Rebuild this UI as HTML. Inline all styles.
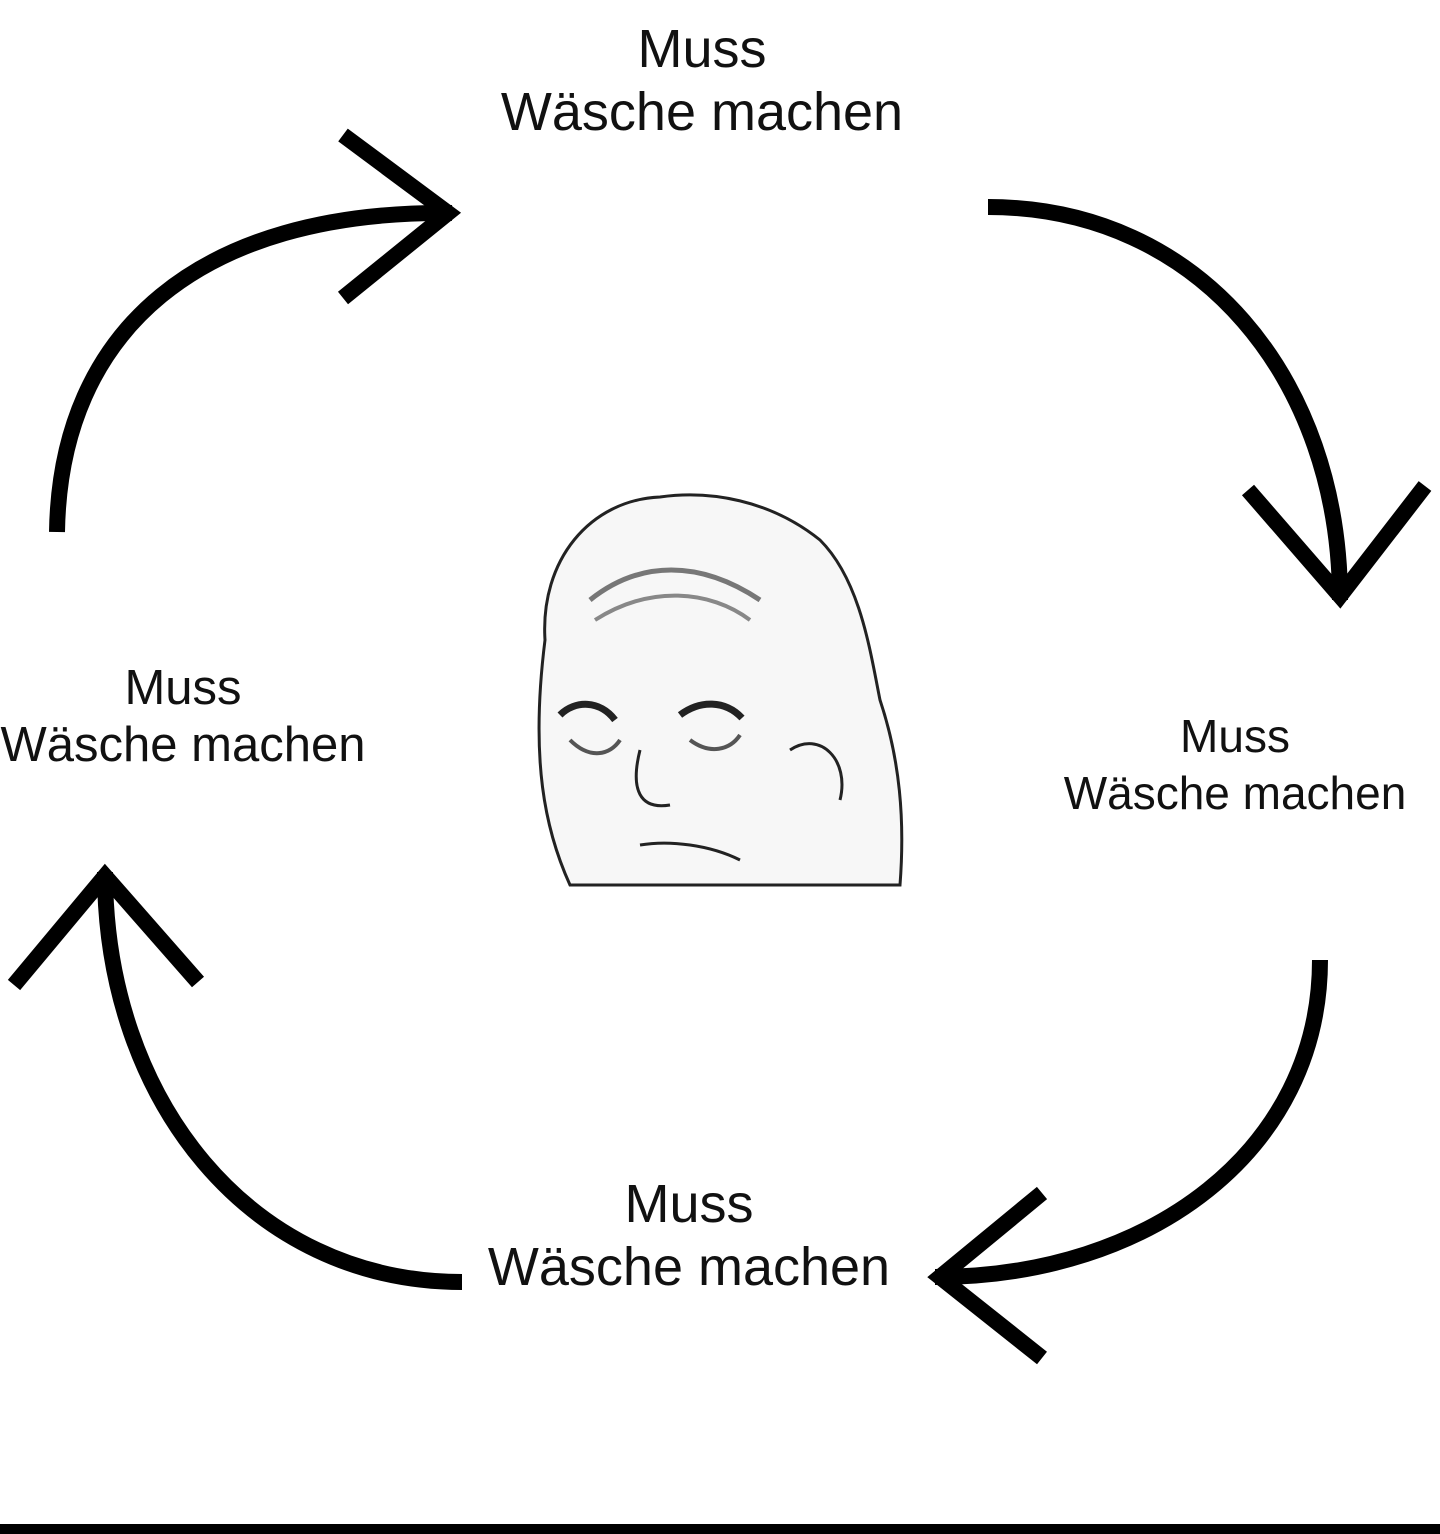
<!DOCTYPE html>
<html><head><meta charset="utf-8"><style>
html,body{margin:0;padding:0;background:#fff;}
body{width:1440px;height:1534px;position:relative;overflow:hidden;font-family:"Liberation Sans",sans-serif;color:#111;}
.t{position:absolute;text-align:center;white-space:nowrap;transform:translateX(-50%);}
.bar{position:absolute;left:0;top:1524px;width:1440px;height:10px;background:#000;}
</style></head><body>
<svg width="1440" height="1534" style="position:absolute;left:0;top:0">
<g fill="none" stroke="#000" stroke-width="16" stroke-linecap="butt" stroke-linejoin="miter">
<path d="M57,532 C60,330 200,210 452,213"/>
<path d="M343,135 L448,213 L343,298"/>
<path d="M988,207 C1200,207 1340,380 1340,600"/>
<path d="M1248,490 L1340,596 L1425,486"/>
<path d="M1320,960 C1320,1150 1150,1277 935,1277"/>
<path d="M1042,1193 L940,1277 L1042,1358"/>
<path d="M462,1282 C250,1282 105,1100 105,872"/>
<path d="M14,985 L105,876 L198,982"/>
</g>
<g fill="none" stroke="#222" stroke-width="3">
<path d="M545,640 C540,560 590,500 660,497 C710,490 770,500 820,540 C860,580 870,650 880,700 C900,760 905,820 900,885 L570,885 C545,830 530,760 545,640 Z" fill="#f7f7f7"/>
<path d="M590,600 C640,560 700,560 760,600" stroke="#777" stroke-width="5"/>
<path d="M595,620 C650,585 710,590 750,620" stroke="#888" stroke-width="4"/>
<path d="M560,715 C575,700 600,700 615,720" stroke-width="7"/>
<path d="M680,715 C700,700 725,700 742,718" stroke-width="7"/>
<path d="M570,740 C590,760 610,755 620,740" stroke="#555" stroke-width="4"/>
<path d="M690,740 C710,755 730,750 740,735" stroke="#555" stroke-width="4"/>
<path d="M640,750 C630,790 640,810 670,805"/>
<path d="M640,845 C670,840 710,845 740,860"/>
<path d="M790,750 C820,730 850,760 840,800"/>
</g>
</svg>
<div class="t" style="left:702px;top:18px;font-size:54px;line-height:1.17">Muss<br>Wäsche machen</div>
<div class="t" style="left:183px;top:660px;font-size:49px;line-height:1.16">Muss<br>Wäsche machen</div>
<div class="t" style="left:1235px;top:708px;font-size:46px;line-height:1.24">Muss<br>Wäsche machen</div>
<div class="t" style="left:689px;top:1173px;font-size:54px;line-height:1.17">Muss<br>Wäsche machen</div>
<div class="bar"></div>
</body></html>
